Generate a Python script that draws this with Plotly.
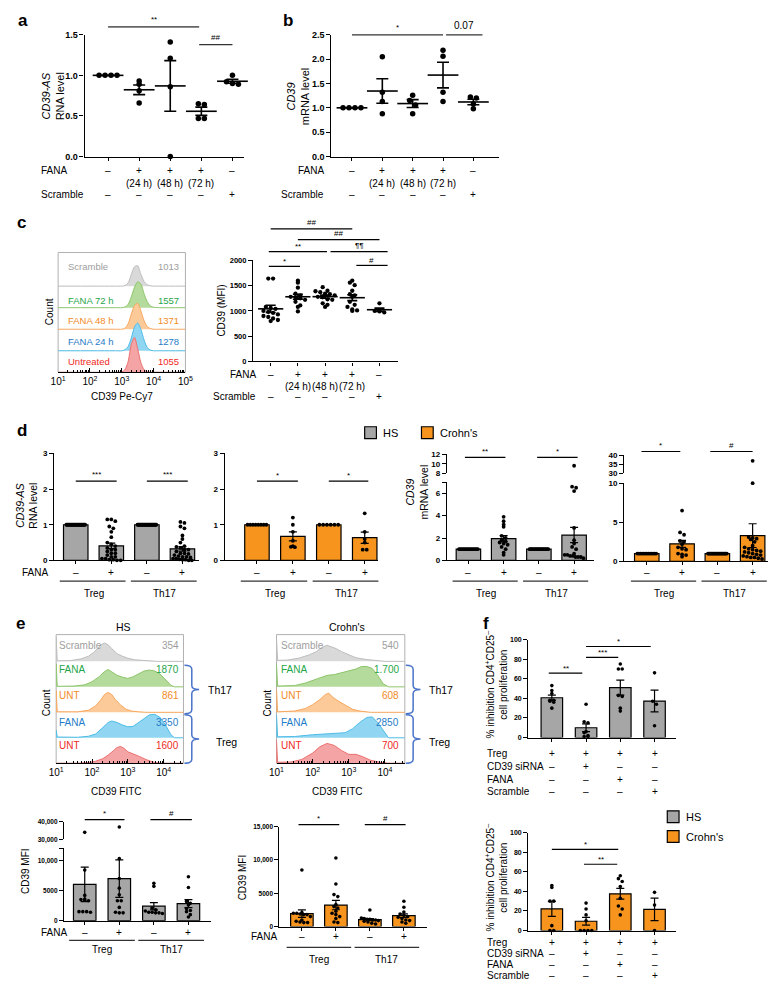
import numpy as np
import plotly.graph_objects as go

W, H = 776, 982
FONT = "Liberation Sans, Arial, Helvetica, sans-serif"
GRAY = "#a6a6a6"
ORANGE = "#f7941d"

# ====================== DATA ======================
# ---- panel a : CD39-AS RNA level ----
a_untreated = [1.00, 1.00, 1.00, 1.00]
a_fana24 = [0.93, 0.89, 0.81, 0.66]
a_fana48 = [1.41, 1.21, 0.86, 0.00]
a_fana72 = [0.65, 0.64, 0.47, 0.47]
a_scramble = [1.00, 0.92, 0.90, 0.89]
a_yticks = [0.0, 0.5, 1.0, 1.5]
a_yticktext = ["0.0", "0.5", "1.0", "1.5"]

# ---- panel b : CD39 mRNA level ----
b_untreated = [1.00, 1.00, 1.00, 1.00]
b_fana24 = [2.05, 1.32, 1.13, 0.88]
b_fana48 = [1.26, 1.15, 1.06, 0.88]
b_fana72 = [2.18, 2.06, 1.32, 1.13]
b_scramble = [1.22, 1.20, 1.08, 0.98]
b_yticks = [0.0, 0.5, 1.0, 1.5, 2.0, 2.5]
b_yticktext = ["0.0", "0.5", "1.0", "1.5", "2.0", "2.5"]

row_fana = ["–", "+", "+", "+", "–"]
row_hours = ["", "(24 h)", "(48 h)", "(72 h)", ""]
row_scramble = ["–", "–", "–", "–", "+"]

# ---- panel c : histograms (log10 CD39 Pe-Cy7, relative counts) ----
c_hist_names = ["Untreated", "FANA 24 h", "FANA 48 h", "FANA 72 h", "Scramble"]
c_hist_mfi = ["1055", "1278", "1371", "1557", "1013"]
c_hist_logx = [2.8, 3.0, 3.1, 3.2, 3.3, 3.4, 3.5, 3.6, 3.7, 3.8, 3.9, 4.0, 4.2]
c_hist_untreated = [0, 0.02, 0.12, 0.5, 1.3, 1.62, 1.1, 0.45, 0.12, 0.03, 0, 0, 0]
c_hist_fana24 = [0, 0, 0.05, 0.2, 0.6, 1.1, 1.29, 1.0, 0.5, 0.15, 0.03, 0, 0]
c_hist_fana48 = [0, 0, 0.05, 0.25, 0.7, 1.1, 1.2, 0.85, 0.4, 0.12, 0.03, 0, 0]
c_hist_fana72 = [0, 0, 0.03, 0.15, 0.5, 0.95, 1.2, 1.1, 0.65, 0.28, 0.08, 0.02, 0]
c_hist_scramble = [0, 0, 0.03, 0.15, 0.55, 0.9, 0.95, 0.55, 0.22, 0.07, 0.02, 0, 0]

# ---- panel c : CD39 MFI scatter ----
c_untreated = [1640, 1640, 1080, 1060, 1040, 1000, 980, 960, 930, 900, 880, 850, 820, 800]
c_fana24 = [1600, 1560, 1460, 1340, 1310, 1280, 1270, 1250, 1220, 1180, 1110, 1080, 990]
c_fana48 = [1470, 1400, 1390, 1370, 1340, 1330, 1310, 1280, 1270, 1230, 1220, 1150, 1120, 1080]
c_fana72 = [1600, 1560, 1510, 1400, 1330, 1310, 1280, 1180, 1120, 1080, 1030, 1010, 1000]
c_scramble = [1150, 1010, 1000, 990, 970]
c_yticks = [0, 500, 1000, 1500, 2000]
c_yticktext = ["0", "500", "1000", "1500", "2000"]

# ---- panel d ----
d_fana_row = ["–", "+", "–", "+"]
d_groups = ["Treg", "Th17"]
d1_treg_unt = [1.0] * 25
d1_treg_fana = [1.15, 1.15, 1.1, 0.95, 0.9, 0.8, 0.65, 0.5, 0.45, 0.4, 0.35, 0.3, 0.3, 0.25,
                0.2, 0.2, 0.15, 0.1, 0.1, 0.05, 0.05, 0.02, 0.02, 0.0, 0.0]
d1_th17_unt = [1.0] * 28
d1_th17_fana = [1.08, 1.05, 0.95, 0.9, 0.7, 0.6, 0.5, 0.4, 0.38, 0.35, 0.3, 0.3, 0.25, 0.2,
                0.2, 0.18, 0.15, 0.12, 0.1, 0.1, 0.08, 0.05, 0.05, 0.03, 0.02, 0.02, 0.0, 0.0]
d2_treg_unt = [1.0] * 8
d2_treg_fana = [1.2, 1.0, 0.8, 0.55, 0.4, 0.38, 0.37]
d2_th17_unt = [1.0] * 6
d2_th17_fana = [1.32, 0.8, 0.6, 0.5, 0.3, 0.3]
d3_treg_unt = [1.0] * 15
d3_treg_fana = [3.9, 3.5, 3.2, 3.0, 2.2, 2.0, 1.8, 1.7, 1.6, 1.5, 1.4, 1.2, 1.0, 0.7, 0.5]
d3_th17_unt = [1.0] * 18
d3_th17_fana = [9.6, 6.6, 6.5, 6.2, 2.9, 1.8, 1.5, 1.2, 1.0, 0.6, 0.5, 0.5, 0.4, 0.4, 0.3, 0.3, 0.3, 0.2]
d4_treg_unt = [1.0] * 13
d4_treg_fana = [6.5, 3.7, 3.4, 2.6, 2.5, 2.2, 1.8, 1.6, 1.5, 1.0, 0.9, 0.8, 0.6]
d4_th17_unt = [1.0] * 22
d4_th17_fana = [37.0, 10.0, 3.1, 3.0, 2.9, 2.8, 2.5, 2.0, 1.8, 1.6, 1.5, 1.4, 1.3, 1.2, 1.1,
                1.0, 0.9, 0.8, 0.7, 0.6, 0.5, 0.5, 0.4, 0.3]

# ---- panel e : histograms (log10 CD39 FITC) ----
e_hist_labels = ["UNT", "FANA", "UNT", "FANA", "Scramble"]
e_hs_mfi = ["1600", "3350", "861", "1870", "354"]
e_cd_mfi = ["700", "2850", "608", "1.700", "540"]
e_hs_unt_treg = ([1.6, 1.9, 2.1, 2.3, 2.45, 2.6, 2.7, 2.8, 2.9, 3.0, 3.15, 3.3, 3.5, 3.7, 3.9],
                 [0, 0.03, 0.08, 0.18, 0.32, 0.5, 0.62, 0.66, 0.58, 0.45, 0.38, 0.28, 0.15, 0.05, 0])
e_hs_fana_treg = ([1.0, 1.0, 1.03, 1.6, 1.9, 2.1, 2.3, 2.45, 2.55, 2.7, 2.85, 3.0, 3.15, 3.3, 3.45, 3.6, 3.75, 3.9, 4.05, 4.2, 4.3],
                  [0, 0.3, 0.03, 0.02, 0.06, 0.15, 0.4, 0.6, 0.66, 0.6, 0.5, 0.43, 0.45, 0.6, 0.78, 0.9, 0.92, 0.8, 0.5, 0.12, 0])
e_hs_unt_th17 = ([1.0, 1.0, 1.03, 1.6, 1.9, 2.1, 2.25, 2.35, 2.45, 2.55, 2.65, 2.8, 2.95, 3.1, 3.3, 3.5],
                 [0, 0.85, 0.02, 0.02, 0.08, 0.25, 0.5, 0.7, 0.78, 0.7, 0.5, 0.28, 0.12, 0.05, 0.02, 0])
e_hs_fana_th17 = ([1.0, 1.0, 1.03, 1.5, 1.8, 2.0, 2.2, 2.35, 2.45, 2.55, 2.7, 2.85, 3.0, 3.15, 3.3, 3.45, 3.6, 3.75, 3.9, 4.05, 4.2, 4.3],
                  [0, 0.9, 0.02, 0.03, 0.08, 0.2, 0.4, 0.6, 0.68, 0.6, 0.45, 0.38, 0.33, 0.4, 0.52, 0.62, 0.66, 0.62, 0.5, 0.3, 0.06, 0])
e_hs_scramble = ([1.0, 1.0, 1.03, 1.4, 1.7, 1.9, 2.05, 2.15, 2.25, 2.35, 2.45, 2.55, 2.7, 2.85, 3.0, 3.2, 3.5, 3.8],
                 [0, 0.95, 0.02, 0.03, 0.1, 0.2, 0.35, 0.5, 0.65, 0.72, 0.65, 0.5, 0.3, 0.2, 0.12, 0.06, 0.02, 0])
e_cd_unt_treg = ([1.0, 1.0, 1.03, 1.4, 1.7, 2.0, 2.2, 2.4, 2.6, 2.8, 3.0, 3.2, 3.4, 3.6, 3.9, 4.1],
                 [0, 0.9, 0.04, 0.05, 0.15, 0.4, 0.65, 0.78, 0.7, 0.5, 0.35, 0.35, 0.25, 0.12, 0.03, 0])
e_cd_fana_treg = ([1.0, 1.0, 1.03, 1.5, 2.0, 2.5, 2.9, 3.1, 3.3, 3.5, 3.65, 3.8, 3.95, 4.1],
                  [0, 0.9, 0.04, 0.05, 0.12, 0.15, 0.2, 0.35, 0.6, 0.8, 0.82, 0.6, 0.3, 0])
e_cd_unt_th17 = ([1.0, 1.0, 1.03, 1.5, 1.8, 2.0, 2.2, 2.35, 2.45, 2.55, 2.7, 2.9, 3.1, 3.3, 3.6],
                 [0, 0.9, 0.02, 0.05, 0.15, 0.3, 0.5, 0.7, 0.75, 0.6, 0.45, 0.28, 0.12, 0.05, 0])
e_cd_fana_th17 = ([1.0, 1.0, 1.03, 1.5, 1.8, 2.0, 2.2, 2.4, 2.6, 2.8, 3.0, 3.2, 3.35, 3.5, 3.65, 3.8, 3.95, 4.1],
                  [0, 0.9, 0.03, 0.05, 0.15, 0.25, 0.38, 0.45, 0.48, 0.55, 0.6, 0.7, 0.8, 0.8, 0.72, 0.45, 0.12, 0])
e_cd_scramble = ([1.0, 1.0, 1.03, 1.3, 1.6, 1.9, 2.1, 2.25, 2.4, 2.5, 2.65, 2.8, 3.0, 3.2, 3.5, 3.8, 4.0],
                 [0, 0.9, 0.04, 0.05, 0.12, 0.25, 0.38, 0.55, 0.63, 0.58, 0.5, 0.38, 0.25, 0.14, 0.07, 0.03, 0])

# ---- panel e : CD39 MFI bars ----
e_hs_treg_unt = [34000, 8400, 4200, 3600, 3500, 3400, 3300, 1500, 1500, 1500, 1400]
e_hs_treg_fana = [37000, 10300, 7000, 5400, 4300, 3300, 3300, 2200, 1400, 1300, 1300]
e_hs_th17_unt = [6200, 5700, 2100, 1800, 1600, 1400, 1400, 1300, 1300, 1200]
e_hs_th17_fana = [7300, 5500, 3200, 2900, 2600, 2000, 1700, 1500, 1000, 600]
e_cd_treg_unt = [8500, 2100, 2000, 2000, 1900, 1800, 1800, 1500, 1000, 800, 700, 600, 600]
e_cd_treg_fana = [10300, 6400, 4800, 4500, 3300, 3000, 2800, 2300, 2000, 1800, 1500, 1200, 700, 600]
e_cd_th17_unt = [2500, 1300, 1200, 1100, 1100, 1000, 1000, 900, 800, 700, 500, 400]
e_cd_th17_fana = [3800, 2900, 2200, 1900, 1700, 1500, 1400, 1200, 1000, 900, 700, 500]

# ---- panel f : % inhibition of CD4+CD25- proliferation ----
f_row_names = ["Treg", "CD39 siRNA", "FANA", "Scramble"]
f_rows = [["+", "+", "+", "+"], ["–", "+", "–", "–"], ["–", "–", "+", "–"], ["–", "–", "–", "+"]]
f_hs_treg = [53, 48, 45, 38, 38, 37, 36, 30]
f_hs_sirna = [34, 16, 15, 6, 5, 2, 1, 1]
f_hs_fana = [75, 70, 70, 43, 42, 30, 27]
f_hs_scramble = [66, 37, 34, 12]
f_cd_treg = [46, 44, 30, 30, 5, 0, 0]
f_cd_sirna = [28, 22, 16, 10, 0, 0, 0, 0]
f_cd_fana = [56, 53, 50, 45, 33, 25, 22, 16]
f_cd_scramble = [39, 26, 0]
f_yticks = [0, 20, 40, 60, 80, 100]

# ====================== HELPERS ======================
fig = go.Figure()
axes_layout = {}
shapes = []
annotations = []
cnt = {"x": 0, "y": 0}

BASE_Y = dict(showline=True, linecolor="black", linewidth=1.2, ticks="outside", ticklen=4,
              tickwidth=1.2, tickcolor="black", showgrid=False, zeroline=False, tickmode="array",
              fixedrange=True)
BASE_X = dict(showline=True, linecolor="black", linewidth=1.2, ticks="outside", ticklen=3,
              tickwidth=1.2, tickcolor="black", showgrid=False, zeroline=False,
              showticklabels=False, tickmode="array", fixedrange=True)


def PX(x):
    return x / W


def PY(y):
    return 1 - y / H


def _new(kind):
    cnt[kind] += 1
    n = cnt[kind]
    return (kind if n == 1 else f"{kind}{n}"), (kind + "axis" if n == 1 else f"{kind}axis{n}")


def pair(x0, x1, yt, yb, xr, yr, xkw=None, ykw=None):
    xref, xkey = _new("x")
    yref, ykey = _new("y")
    axes_layout[xkey] = {**BASE_X, "domain": [PX(x0), PX(x1)], "range": xr, "anchor": yref, **(xkw or {})}
    axes_layout[ykey] = {**BASE_Y, "domain": [PY(yb), PY(yt)], "range": yr, "anchor": xref, **(ykw or {})}
    return xref, yref


def extra_y(xref, yt, yb, yr, ykw=None):
    yref, ykey = _new("y")
    axes_layout[ykey] = {**BASE_Y, "domain": [PY(yb), PY(yt)], "range": yr, "anchor": xref, **(ykw or {})}
    return yref


def ytick(vals, texts, size):
    return dict(tickvals=vals, ticktext=texts,
                tickfont=dict(family=FONT, size=size, color="black", weight="bold"))


def text(x, y, s, size=10, xref="paper", xanchor="center", yanchor="middle", color="black",
         angle=0, bold=False):
    if not s:
        return
    annotations.append(dict(x=(x / W if xref == "paper" else x), y=PY(y), xref=xref, yref="paper",
                            text=s, showarrow=False, xanchor=xanchor, yanchor=yanchor,
                            textangle=angle, borderpad=0,
                            font=dict(family=FONT, size=size, color=color,
                                      weight="bold" if bold else "normal")))


def hline(xref, xa, xb, ypx, color="black", width=1.2):
    shapes.append(dict(type="line", xref=xref, yref="paper", x0=xa, x1=xb, y0=PY(ypx), y1=PY(ypx),
                       line=dict(color=color, width=width)))


def sig(xref, xa, xb, ypx, label, size=8, dy=6, color="black", width=1.2):
    hline(xref, xa, xb, ypx, color, width)
    text((xa + xb) / 2, ypx - dy, label, size=size, xref=xref)


def mean_sem(v):
    v = np.asarray(v, float)
    s = v.std(ddof=1) / np.sqrt(len(v)) if len(v) > 1 else 0.0
    return float(v.mean()), float(s)


def swarm(vals, diam, ppx, ppy, maxw=None):
    vals = np.asarray(vals, float)
    offs = np.zeros(len(vals))
    if len(vals) == 0:
        return offs
    bins = {}
    for idx in np.argsort(-vals, kind="stable"):
        b = int(round(vals[idx] * ppy / diam))
        bins.setdefault(b, []).append(idx)
    for idxs in bins.values():
        n = len(idxs)
        step = diam
        if maxw is not None and n > 1 and (n - 1) * step > maxw:
            step = maxw / (n - 1)
        for k, idx in enumerate(idxs):
            offs[idx] = (k - (n - 1) / 2) * step / ppx
    return offs


def pts(xref, yref, x, y, size):
    fig.add_trace(go.Scatter(x=x, y=y, mode="markers", xaxis=xref, yaxis=yref, cliponaxis=False,
                             marker=dict(size=size, color="black", line=dict(width=0))))


def dot_panel(xref, yref, groups, ppx, ppy, msize, mean_w, cap):
    for i, vals in enumerate(groups):
        offs = swarm(vals, msize + 0.6, ppx, ppy)
        pts(xref, yref, [i + o for o in offs], vals, msize)
    ms = [mean_sem(v) for v in groups]
    fig.add_trace(go.Scatter(x=list(range(len(groups))), y=[m for m, _ in ms], mode="markers",
                             xaxis=xref, yaxis=yref, cliponaxis=False,
                             marker=dict(symbol="line-ew", size=mean_w, line=dict(width=1.6, color="black")),
                             error_y=dict(type="data", array=[s for _, s in ms], width=cap,
                                          thickness=1.6, color="black")))


def bar_panel(xref, yref, groups, color, ppx, ppy, bar_px, msize, upper=None, cap=4):
    ms = [mean_sem(v) for v in groups]
    xs = list(range(len(groups)))
    fig.add_trace(go.Bar(x=xs, y=[m for m, _ in ms], width=bar_px / ppx, xaxis=xref, yaxis=yref,
                         marker=dict(color=color, line=dict(color="black", width=1.2))))
    for i, vals in enumerate(groups):
        lim = upper[2] if upper else None
        lo = [v for v in vals if lim is None or v <= lim]
        hi = [v for v in vals if lim is not None and v > lim]
        offs = swarm(lo, msize + 0.3, ppx, ppy, maxw=bar_px - msize - 2)
        pts(xref, yref, [i + o for o in offs], lo, msize)
        if hi:
            offs = swarm(hi, msize + 0.3, ppx, upper[1], maxw=bar_px - msize - 2)
            pts(xref, upper[0], [i + o for o in offs], hi, msize)
    fig.add_trace(go.Scatter(x=xs, y=[m for m, _ in ms], mode="markers", xaxis=xref, yaxis=yref,
                             marker=dict(size=1, color="rgba(0,0,0,0)"), cliponaxis=False,
                             error_y=dict(type="data", array=[s for _, s in ms], width=cap,
                                          thickness=1.2, color="black")))


def hist(xref, yref, logx, heights, base, fill, line, lo, hi, shape="linear"):
    xs = [10 ** lo] + [10 ** v for v in logx] + [10 ** hi]
    ys = [base] + [base + h for h in heights] + [base]
    fig.add_trace(go.Scatter(x=xs, y=ys, mode="lines", fill="toself", fillcolor=fill,
                             xaxis=xref, yaxis=yref,
                             line=dict(color=line, width=1, shape=shape, smoothing=0.7)))


def hist_axes(x0, x1, yt, yb, lr, nrows_top, decades):
    tv = [10 ** d for d in decades]
    tt = [f"10<sup>{d}</sup>" for d in decades]
    minor = [k * 10 ** d for d in range(decades[0], decades[-1] + 1) for k in range(2, 10)]
    xr, yr = pair(x0, x1, yt, yb, lr, [0, nrows_top],
                  xkw=dict(type="log", ticks="inside", ticklen=4, tickvals=tv, ticktext=tt,
                           showticklabels=True, linewidth=1,
                           tickfont=dict(family=FONT, size=10, color="black"),
                           minor=dict(ticks="inside", ticklen=2, tickvals=minor, tickcolor="black",
                                      tickwidth=0.8)),
                  ykw=dict(showline=False, ticks="", showticklabels=False))
    shapes.append(dict(type="rect", xref="paper", yref="paper", x0=PX(x0), x1=PX(x1), y0=PY(yb), y1=PY(yt),
                       line=dict(color="#b0b0b0", width=1), layer="below"))
    return xr, yr


def brace(x0, xtip, yt, yb, color="#4a74c9"):
    xm = (x0 + xtip) / 2
    ym = (yt + yb) / 2
    r = 4
    pts_ = [("M", x0, yt), ("Q", xm, yt, xm, yt + r), ("L", xm, ym - r), ("Q", xm, ym, xtip, ym),
            ("Q", xm, ym, xm, ym + r), ("L", xm, yb - r), ("Q", xm, yb, x0, yb)]
    path = ""
    for p in pts_:
        cmd = p[0]
        coords = p[1:]
        s = " ".join(f"{PX(coords[i]):.5f},{PY(coords[i + 1]):.5f}" for i in range(0, len(coords), 2))
        path += f"{cmd} {s} "
    shapes.append(dict(type="path", xref="paper", yref="paper", path=path.strip(),
                       line=dict(color=color, width=1.5)))


def legend_box(x, y, color, label, size=11):
    shapes.append(dict(type="rect", xref="paper", yref="paper", x0=PX(x), x1=PX(x + 12),
                       y0=PY(y + 6), y1=PY(y - 6), fillcolor=color, line=dict(color="black", width=1.2)))
    text(x + 18, y, label, size=size, xanchor="left")


HS_COL = dict(text="#9e9e9e", fill="#d9d9d9", line="#bdbdbd")
GR_COL = dict(text="#1fa64a", fill="#b4da9c", line="#8cc56a")
OR_COL = dict(text="#f28a26", fill="#fcca98", line="#f6a65e")
BL_COL = dict(text="#1f7cc7", fill="#90d6f2", line="#4dbbe6")
RD_COL = dict(text="#ee2a24", fill="#f4a4a4", line="#ec7070")

# ====================== PANEL a ======================
text(7, 8, "a", size=17, bold=True)
xa, ya = pair(70, 233, 22, 145, [-0.756, 4.378], [0, 1.5],
              xkw=dict(tickvals=[0, 1, 2, 3, 4]), ykw=ytick(a_yticks, a_yticktext, 9))
dot_panel(xa, ya, [a_untreated, a_fana24, a_fana48, a_fana72, a_scramble], 31.75, 82.0, 5.5, 22, 6)
text(38, 84, "<i>CD39-AS</i><br>RNA level", size=11, angle=-90)
text(24, 159, "FANA", size=10, xanchor="left")
text(24, 183, "Scramble", size=10, xanchor="left")
for i in range(5):
    text(i, 159, row_fana[i], size=10, xref=xa)
    text(i, 172, row_hours[i], size=10, xref=xa)
    text(i, 183, row_scramble[i], size=10, xref=xa)
sig(xa, 0, 2.93, 14, "**", color="#666666", width=1.8, dy=7)
sig(xa, 2.93, 4, 32, "##", color="#333333", width=1.2, dy=7)

# ====================== PANEL b ======================
text(278, 8, "b", size=17, bold=True)
xb, yb = pair(322, 493, 22, 145, [-0.68, 4.84], [0, 2.5],
              xkw=dict(tickvals=[0, 1, 2, 3, 4]), ykw=ytick(b_yticks, b_yticktext, 9))
dot_panel(xb, yb, [b_untreated, b_fana24, b_fana48, b_fana72, b_scramble], 31.0, 49.2, 5.5, 22, 6)
text(288, 85, "<i>CD39</i><br>mRNA level", size=11, angle=-90)
text(315, 159, "FANA", size=10, xanchor="right")
text(315, 183, "Scramble", size=10, xanchor="right")
for i in range(5):
    text(i, 159, row_fana[i], size=10, xref=xb)
    text(i, 172, row_hours[i], size=10, xref=xb)
    text(i, 183, row_scramble[i], size=10, xref=xb)
sig(xb, 0, 3.0, 22, "*", dy=7, color="#333333")
sig(xb, 3.1, 4.3, 22, "0.07", size=10, dy=9, color="#333333")

# ====================== PANEL c ======================
text(6, 212, "c", size=17, bold=True)
xh, yh = hist_axes(43, 173, 242, 363, [1, 5], 5.56, [1, 2, 3, 4, 5])
c_curves = [c_hist_untreated, c_hist_fana24, c_hist_fana48, c_hist_fana72, c_hist_scramble]
c_cols = [RD_COL, BL_COL, OR_COL, GR_COL, HS_COL]
c_text_y = [352, 332, 311, 290, 256]
for k in [4, 3, 2, 1, 0]:
    hist(xh, yh, c_hist_logx, c_curves[k], k, c_cols[k]["fill"], c_cols[k]["line"], 1, 5, shape="spline")
for k in range(5):
    text(52, c_text_y[k], c_hist_names[k], size=9.5, xanchor="left", color=c_cols[k]["text"])
    text(167, c_text_y[k], c_hist_mfi[k], size=9.5, xanchor="right", color=c_cols[k]["text"])
text(35, 302, "Count", size=10, angle=-90)
text(108, 387, "CD39 Pe-Cy7", size=10)

xc, yc = pair(242, 390, 250, 352, [-0.65, 4.68], [0, 2000],
              xkw=dict(tickvals=[0, 1, 2, 3, 4]), ykw=ytick(c_yticks, c_yticktext, 7.5))
dot_panel(xc, yc, [c_untreated, c_fana24, c_fana48, c_fana72, c_scramble], 27.75, 0.051, 4.3, 18, 5)
text(210, 301, "CD39 (MFI)", size=10, angle=-90)
text(246, 365, "FANA", size=10, xanchor="right")
text(246, 387, "Scramble", size=10, xanchor="right")
for i in range(5):
    text(i, 365, row_fana[i], size=10, xref=xc)
    text(i, 377, row_hours[i], size=10, xref=xc)
    text(i, 387, row_scramble[i], size=10, xref=xc)
sig(xc, 0, 3.0, 218, "##", dy=6)
sig(xc, 1.0, 4.0, 229, "##", dy=6)
sig(xc, -0.07, 2.07, 241, "**", dy=5)
sig(xc, 2.2, 4.3, 241, "¶¶", dy=6)
sig(xc, -0.07, 1.08, 256, "*", dy=5)
sig(xc, 3.15, 4.3, 255, "#", dy=5)

# ====================== PANEL d ======================
text(6, 422, "d", size=17, bold=True)
legend_box(356, 424, GRAY, "HS")
legend_box(414, 424, ORANGE, "Crohn's")


def d_labels(xref, show_fana=False, fana_x=5):
    for i in range(4):
        text(i, 565, d_fana_row[i], size=10, xref=xref)
    for g in range(2):
        hline(xref, 2 * g - 0.45, 2 * g + 1.4, 574, color="#333333", width=1.2)
        text(2 * g + 0.5, 586, d_groups[g], size=10, xref=xref)
    if show_fana:
        text(fana_x, 565, "FANA", size=10, xanchor="left")


d_tick = ytick([0, 1, 2, 3], ["0", "1", "2", "3"], 8)
x1_, y1_ = pair(39, 187, 445, 553, [-0.606, 3.47], [0, 3], xkw=dict(tickvals=[0, 1, 2, 3]), ykw=d_tick)
bar_panel(x1_, y1_, [d1_treg_unt, d1_treg_fana, d1_th17_unt, d1_th17_fana], GRAY, 36.33, 36.0, 25, 3.8)
text(11, 498, "<i>CD39-AS</i><br>RNA level", size=10.5, angle=-90)
d_labels(x1_, True, 5)
sig(x1_, 0, 1.15, 473, "***", dy=7)
sig(x1_, 2, 3.15, 473, "***", dy=7)

x2_, y2_ = pair(213, 370, 445, 553, [-0.9, 3.38], [0, 3], xkw=dict(tickvals=[0, 1, 2, 3]), ykw=d_tick)
bar_panel(x2_, y2_, [d2_treg_unt, d2_treg_fana, d2_th17_unt, d2_th17_fana], ORANGE, 36.7, 36.0, 25, 3.8)
d_labels(x2_)
sig(x2_, 0, 1.14, 473, "*", dy=6)
sig(x2_, 2, 3.1, 473, "*", dy=6)

x3_, y3_ = pair(440, 590, 474, 553, [-0.61, 3.56], [0, 7], xkw=dict(tickvals=[0, 1, 2, 3]),
                ykw=ytick([0, 2, 4, 6, 7], ["0", "2", "4", "6", ""], 8))
y3u = extra_y(x3_, 446, 465, [8, 12], ytick([8, 10, 12], ["8", "10", "12"], 8))
bar_panel(x3_, y3_, [d3_treg_unt, d3_treg_fana, d3_th17_unt, d3_th17_fana], GRAY, 36.0, 11.29, 25, 3.8,
          upper=(y3u, 4.75, 7))
text(410, 484, "<i>CD39</i><br>mRNA level", size=10.5, angle=-90)
d_labels(x3_)
sig(x3_, -0.1, 1.05, 449, "**", dy=6)
sig(x3_, 1.95, 3.1, 449, "*", dy=6)

x4_, y4_ = pair(621, 768, 475, 554, [-0.64, 3.44], [0, 10], xkw=dict(tickvals=[0, 1, 2, 3]),
                ykw=ytick([0, 5, 10], ["0", "5", "10"], 8))
y4u = extra_y(x4_, 447, 465, [30, 40], ytick([30, 35, 40], ["30", "35", "40"], 8))
bar_panel(x4_, y4_, [d4_treg_unt, d4_treg_fana, d4_th17_unt, d4_th17_fana], ORANGE, 36.0, 7.9, 25, 3.8,
          upper=(y4u, 1.8, 10.5))
d_labels(x4_)
sig(x4_, -0.15, 0.95, 443, "*", dy=6)
sig(x4_, 1.8, 3.0, 443, "#", dy=6)

# ====================== PANEL e ======================
text(5, 617, "e", size=17, bold=True)
e_cols = [RD_COL, BL_COL, OR_COL, GR_COL, HS_COL]
e_text_y = [740, 717, 690, 663, 639]
hs_curves = [e_hs_unt_treg, e_hs_fana_treg, e_hs_unt_th17, e_hs_fana_th17, e_hs_scramble]
cd_curves = [e_cd_unt_treg, e_cd_fana_treg, e_cd_unt_th17, e_cd_fana_th17, e_cd_scramble]
for (x0, x1, curves, mfis, title, tx, lx, rx) in [
        (41, 171, hs_curves, e_hs_mfi, "HS", 110, 43, 167),
        (266, 397, cd_curves, e_cd_mfi, "Crohn's", 338, 270, 392)]:
    xe, ye = hist_axes(x0, x1, 628, 758, [1, 4.55], 5.05, [1, 2, 3, 4])
    for k in [4, 3, 2, 1, 0]:
        hist(xe, ye, curves[k][0], curves[k][1], k, e_cols[k]["fill"], e_cols[k]["line"], 1, 4.55)
    for k in range(5):
        text(lx, e_text_y[k], e_hist_labels[k], size=10, xanchor="left", color=e_cols[k]["text"])
        text(rx, e_text_y[k], mfis[k], size=10, xanchor="right", color=e_cols[k]["text"])
    text(tx, 620, title, size=10.5)
    text(x0 - 9, 697, "Count", size=10, angle=-90)
    text((x0 + x1) / 2 - 3, 787, "CD39 FITC", size=10)
    brace(x1 + 1, x1 + 16, 659, 708)
    brace(x1 + 1, x1 + 16, 709, 758)
text(195, 684, "Th17", size=10.5, xanchor="left")
text(203, 737, "Treg", size=10.5, xanchor="left")
text(421, 684, "Th17", size=10.5, xanchor="left")
text(421, 737, "Treg", size=10.5, xanchor="left")


def e_labels(xref, yrow, yline, ylab, fana_x):
    text(fana_x, yrow, "FANA", size=10, xanchor="left")
    for i in range(4):
        text(i, yrow, d_fana_row[i], size=10, xref=xref)
    for g in range(2):
        hline(xref, 2 * g - 0.45, 2 * g + 1.45, yline, color="#333333", width=1.2)
        text(2 * g + 0.5, ylab, d_groups[g], size=10, xref=xref)


xe1, ye1 = pair(49, 199, 844, 917, [-0.6, 3.65], [0, 12000], xkw=dict(tickvals=[0, 1, 2, 3]),
                ykw=ytick([0, 5000, 10000, 12000], ["0", "5000", "10,000", ""], 6.5))
ye1u = extra_y(xe1, 817, 835, [30000, 40000], ytick([30000, 40000], ["30,000", "40,000"], 6.5))
bar_panel(xe1, ye1, [e_hs_treg_unt, e_hs_treg_fana, e_hs_th17_unt, e_hs_th17_fana], GRAY, 35.3, 0.00608,
          23, 3.6, upper=(ye1u, 0.0018, 12000))
text(9, 867, "CD39 MFI", size=10, angle=-90)
e_labels(xe1, 929, 937, 946, 25)
sig(xe1, 0, 1.15, 815, "*", dy=6)
sig(xe1, 1.9, 3.1, 815, "#", dy=6)

xe2, ye2 = pair(269, 420, 822, 923, [-0.66, 3.69], [0, 15000], xkw=dict(tickvals=[0, 1, 2, 3]),
                ykw=ytick([0, 5000, 10000, 15000], ["0", "5000", "10,000", "15,000"], 6.5))
bar_panel(xe2, ye2, [e_cd_treg_unt, e_cd_treg_fana, e_cd_th17_unt, e_cd_th17_fana], ORANGE, 34.7,
          0.00673, 23, 3.6)
text(231, 873, "CD39 MFI", size=10, angle=-90)
e_labels(xe2, 933, 944, 956, 239)
sig(xe2, -0.1, 1.1, 820, "*", dy=6)
sig(xe2, 1.85, 3.05, 820, "#", dy=6)

# ====================== PANEL f ======================
text(480, 617, "f", size=17, bold=True)
f_tick = ytick(f_yticks, [str(v) for v in f_yticks], 7)
for (yt, yb_, groups, color, rows_y, sigs) in [
        (633, 732, [f_hs_treg, f_hs_sirna, f_hs_fana, f_hs_scramble], GRAY, [748, 761, 774, 787],
         [(-0.09, 0.89, 667, "**"), (1.0, 1.94, 651, "***"), (1.0, 2.89, 640, "*")]),
        (828, 927, [f_cd_treg, f_cd_sirna, f_cd_fana, f_cd_scramble], ORANGE, [939, 950, 961, 972],
         [(0.0, 1.94, 845, "*"), (0.94, 1.91, 860, "**")])]:
    xf, yf = pair(523, 674, yt, yb_, [-0.69, 3.63], [0, 100], xkw=dict(tickvals=[0, 1, 2, 3]), ykw=f_tick)
    bar_panel(xf, yf, groups, color, 35.0, 0.99, 22, 3.6)
    text(491, (yt + yb_) / 2 - 4, "% inhibition CD4<sup>+</sup>CD25<sup>–</sup><br>cell proliferation",
         size=10, angle=-90)
    for r in range(4):
        text(480, rows_y[r], f_row_names[r], size=10, xanchor="left")
        for i in range(4):
            text(i, rows_y[r], f_rows[r][i], size=10, xref=xf)
    for (a0, a1, yy, lab) in sigs:
        sig(xf, a0, a1, yy, lab, dy=5)
legend_box(665, 812, GRAY, "HS")
legend_box(665, 832, ORANGE, "Crohn's")

fig.update_layout(width=W, height=H, margin=dict(l=0, r=0, t=0, b=0), showlegend=False,
                  paper_bgcolor="white", plot_bgcolor="white",
                  font=dict(family=FONT, color="black"),
                  shapes=shapes, annotations=annotations, **axes_layout)
fig.write_html("out.html")
